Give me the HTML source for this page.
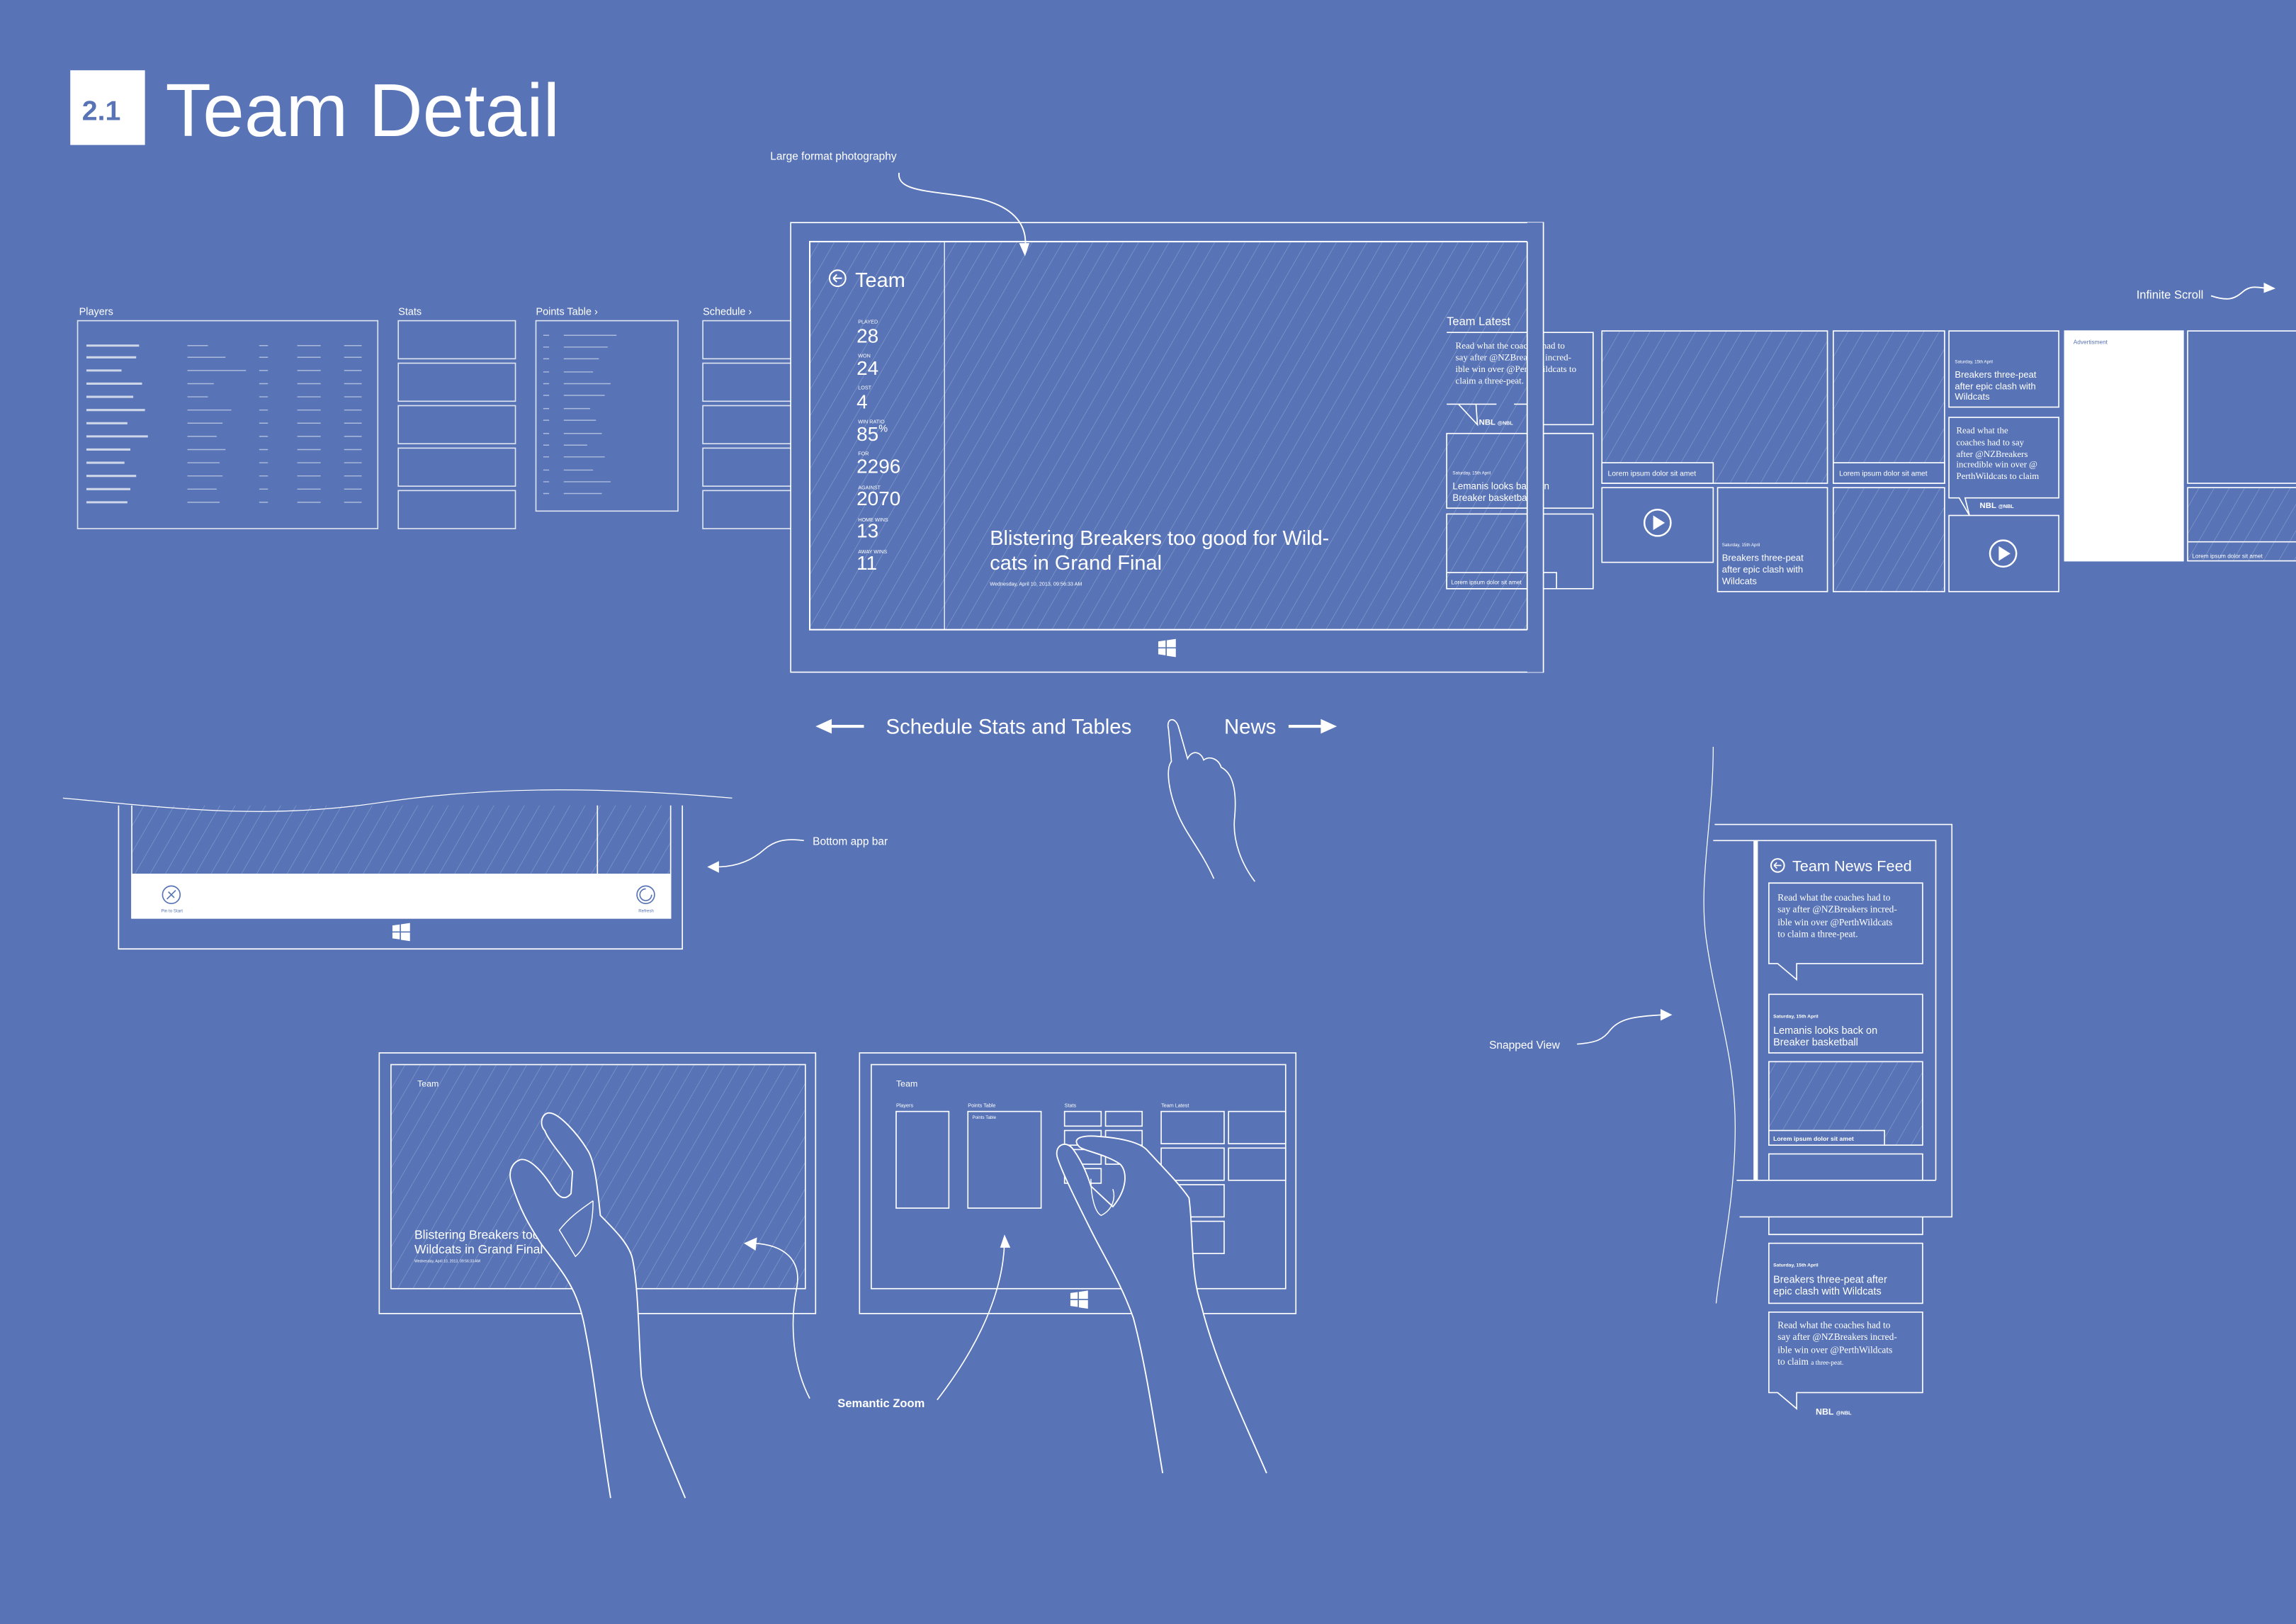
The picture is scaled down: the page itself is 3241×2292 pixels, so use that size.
<!DOCTYPE html>
<html><head><meta charset="utf-8"><style>
html,body{margin:0;padding:0;background:#5874b6;}
svg{display:block}
</style></head><body>
<svg width="3241" height="2292" viewBox="0 0 1568 1109" preserveAspectRatio="none" xmlns="http://www.w3.org/2000/svg" font-family="Liberation Sans, sans-serif" fill="#fff">
<defs>
<pattern id="h" width="9" height="9" patternUnits="userSpaceOnUse" patternTransform="rotate(30)">
<line x1="0" y1="0" x2="0" y2="9" stroke="#fff" stroke-opacity="0.32" stroke-width="0.55"/>
</pattern>
<g id="win"><path d="M0,1 L5,0.3 L5,5 L0,5Z M5.8,0.2 L12,-0.7 L12,5 L5.8,5Z M0,5.8 L5,5.8 L5,10.5 L0,9.8Z M5.8,5.8 L12,5.8 L12,11.7 L5.8,10.8Z" fill="#fff"/></g>
<g id="play"><circle cx="0" cy="0" r="9" fill="none" stroke="#fff" stroke-width="1.2"/><path d="M-3,-5 L5,0 L-3,5Z" fill="#fff"/></g>
</defs>
<rect width="1568" height="1109" fill="#5874b6"/>
<g fill="none" stroke="#fff" stroke-width="0.8">
<rect x="48" y="48" width="51" height="51" fill="#fff" stroke="none"/>
<rect x="53" y="219" width="205" height="142" stroke-opacity="0.8"/>
<rect x="272" y="219" width="80" height="26" stroke-opacity="0.8"/>
<rect x="272" y="248" width="80" height="26" stroke-opacity="0.8"/>
<rect x="272" y="277" width="80" height="26" stroke-opacity="0.8"/>
<rect x="272" y="306" width="80" height="26" stroke-opacity="0.8"/>
<rect x="272" y="335" width="80" height="26" stroke-opacity="0.8"/>
<rect x="366" y="219" width="97" height="130" stroke-opacity="0.8"/>
<rect x="480" y="219" width="80" height="26" stroke-opacity="0.8"/>
<rect x="480" y="248" width="80" height="26" stroke-opacity="0.8"/>
<rect x="480" y="277" width="80" height="26" stroke-opacity="0.8"/>
<rect x="480" y="306" width="80" height="26" stroke-opacity="0.8"/>
<rect x="480" y="335" width="80" height="26" stroke-opacity="0.8"/>
</g>
<g stroke="#fff" stroke-opacity="0.7" stroke-width="1.5">
<path d="M59,236h36M59,244h34M59,253h24M59,262h38M59,271h32M59,280h40M59,289h28M59,298h42M59,307h30M59,316h26M59,325h34M59,334h30M59,343h28"/>
</g>
<g stroke="#fff" stroke-opacity="0.5" stroke-width="0.7">
<path d="M128,236h14M128,244h26M128,253h40M128,262h18M128,271h14M128,280h30M128,289h24M128,298h20M128,307h26M128,316h22M128,325h24M128,334h20M128,343h22"/>
<path d="M177,236h6M177,244h6M177,253h6M177,262h6M177,271h6M177,280h6M177,289h6M177,298h6M177,307h6M177,316h6M177,325h6M177,334h6M177,343h6"/>
<path d="M203,236h16M203,244h16M203,253h16M203,262h16M203,271h16M203,280h16M203,289h16M203,298h16M203,307h16M203,316h16M203,325h16M203,334h16M203,343h16"/>
<path d="M235,236h12M235,244h12M235,253h12M235,262h12M235,271h12M235,280h12M235,289h12M235,298h12M235,307h12M235,316h12M235,325h12M235,334h12M235,343h12"/>
<path d="M371,229h4M385,229h36M371,237h4M385,237h30M371,245h4M385,245h24M371,254h4M385,254h20M371,262h4M385,262h32M371,270h4M385,270h28M371,279h4M385,279h18M371,287h4M385,287h22M371,296h4M385,296h26M371,304h4M385,304h16M371,312h4M385,312h28M371,321h4M385,321h20M371,329h4M385,329h32M371,337h4M385,337h26"/>
</g>
<g font-size="7" fill="#fff">
<text x="54" y="215">Players</text><text x="272" y="215">Stats</text><text x="366" y="215">Points Table ›</text><text x="480" y="215">Schedule ›</text>
</g>

<rect x="540" y="152" width="514" height="307" fill="#5874b6" stroke="#fff" stroke-width="0.8"/>
<rect x="553" y="165" width="490" height="265" fill="url(#h)" stroke="#fff" stroke-width="1"/>
<line x1="645" y1="165" x2="645" y2="430" stroke="#fff" stroke-width="0.6"/>
<use href="#win" x="791" y="437"/>
<g fill="none" stroke="#fff" stroke-width="0.8">
<path d="M1054,227 H1088 V290 H1054"/>
<path d="M1054,296 H1088 V347 H1054"/>
<path d="M1054,351 H1088 V402 H1054"/>
<path d="M988,227 H1043 V276 H1034 M1022,276 H1022 L1008,276 L1009,290 L996,276 H988 Z" />
<rect x="988" y="296" width="55" height="51"/>
<rect x="988" y="351" width="55" height="51"/>
<rect x="988" y="391" width="55" height="11"/>
<path d="M1043,391 H1063 V402"/>
</g>
<g fill="#fff">
<circle cx="572" cy="190" r="5.5" fill="none" stroke="#fff" stroke-width="1"/><path d="M569,190h6M569,190l2.5,-2.5M569,190l2.5,2.5" stroke="#fff" stroke-width="1"/>
<text x="584" y="196" font-size="14">Team</text>
<g font-size="3.5"><text x="586" y="221">PLAYED</text><text x="586" y="244">WON</text><text x="586" y="266">LOST</text><text x="586" y="289">WIN RATIO</text><text x="586" y="311">FOR</text><text x="586" y="334">AGAINST</text><text x="586" y="356">HOME WINS</text><text x="586" y="378">AWAY WINS</text></g>
<g font-size="13.5"><text x="585" y="234">28</text><text x="585" y="256">24</text><text x="585" y="279">4</text><text x="585" y="301">85<tspan font-size="7" dy="-6">%</tspan></text><text x="585" y="323">2296</text><text x="585" y="345">2070</text><text x="585" y="367">13</text><text x="585" y="389">11</text></g>
<text x="676" y="372" font-size="14">Blistering Breakers too good for Wild-</text>
<text x="676" y="389" font-size="14">cats in Grand Final</text>
<text x="676" y="400" font-size="3.5">Wednesday, April 10, 2013, 09:56:33 AM</text>
<text x="988" y="222" font-size="8">Team Latest</text>
<g font-family="Liberation Serif, serif" font-size="6.3"><text x="994" y="238">Read what the coaches had to</text><text x="994" y="246">say after @NZBreakers incred-</text><text x="994" y="254">ible win over @PerthWildcats to</text><text x="994" y="262">claim a three-peat.</text></g>
<text x="1010" y="290" font-size="5.5" font-weight="bold">NBL <tspan font-size="3.5">@NBL</tspan></text>
<text x="992" y="324" font-size="3">Saturday, 15th April</text>
<text x="992" y="334" font-size="6.5">Lemanis looks back on</text>
<text x="992" y="342" font-size="6.5">Breaker basketball</text>
<text x="991" y="399" font-size="4">Lorem ipsum dolor sit amet</text>
</g>
<rect x="1043" y="152" width="11" height="307" fill="#5874b6"/>
<path d="M1043,165 V430 M1054,152 V459" stroke="#fff" stroke-width="0.8" fill="none"/>

<g fill="none" stroke="#fff" stroke-width="0.8">
<rect x="1094" y="226" width="154" height="104" fill="url(#h)"/>
<rect x="1094" y="316" width="76" height="14" fill="#5874b6"/>
<rect x="1094" y="333" width="76" height="51"/>
<rect x="1173" y="333" width="75" height="71"/>
<rect x="1252" y="226" width="76" height="104" fill="url(#h)"/>
<rect x="1252" y="316" width="76" height="14" fill="#5874b6"/>
<rect x="1252" y="333" width="76" height="71" fill="url(#h)"/>
<rect x="1331" y="226" width="75" height="52"/>
<path d="M1331,285 H1406 V340 H1342 L1345,352 L1338,340 H1331Z"/>
<rect x="1331" y="352" width="75" height="52"/>
<rect x="1410" y="226" width="81" height="157" fill="#fff"/>
<path d="M1568,226 H1494 V330 H1568"/>
<path d="M1568,333 H1494 V383 H1568" fill="url(#h)"/>
<path d="M1568,370 H1494" />
</g>
<use href="#play" x="1132" y="357"/>
<use href="#play" x="1368" y="378"/>
<g fill="#fff">
<text x="1098" y="325" font-size="5">Lorem ipsum dolor sit amet</text>
<text x="1256" y="325" font-size="5">Lorem ipsum dolor sit amet</text>
<text x="1176" y="373" font-size="3">Saturday, 15th April</text>
<text x="1176" y="383" font-size="6.3">Breakers three-peat</text><text x="1176" y="391" font-size="6.3">after epic clash with</text><text x="1176" y="399" font-size="6.3">Wildcats</text>
<text x="1335" y="248" font-size="3">Saturday, 15th April</text>
<text x="1335" y="258" font-size="6.3">Breakers three-peat</text><text x="1335" y="266" font-size="6.3">after epic clash with</text><text x="1335" y="273" font-size="6.3">Wildcats</text>
<g font-family="Liberation Serif, serif" font-size="6.2"><text x="1336" y="296">Read what the</text><text x="1336" y="304">coaches had to say</text><text x="1336" y="312">after @NZBreakers</text><text x="1336" y="319">incredible win over @</text><text x="1336" y="327">PerthWildcats to claim</text></g>
<text x="1352" y="347" font-size="5.5" font-weight="bold">NBL <tspan font-size="3.5">@NBL</tspan></text>
<text x="1416" y="235" font-size="4" fill="#5874b6">Advertisment</text>
<text x="1497" y="381" font-size="4">Lorem ipsum dolor sit amet</text>
<text x="1459" y="204" font-size="8">Infinite Scroll</text>
<text x="526" y="109" font-size="7.5">Large format photography</text>
<text x="113" y="93" font-size="51">Team Detail</text>
<text x="56" y="82" font-size="19" font-weight="bold" fill="#5874b6">2.1</text>
</g>
<g fill="none" stroke="#fff" stroke-width="0.9">
<path d="M1510,202 C1522,206 1526,204 1532,199 C1538,194 1544,197 1550,197"/>
<path d="M614,118 C612,132 640,130 670,136 C694,142 702,155 700,170"/>
</g>
<path d="M1546,193 L1554,197 L1546,200Z M696,166 L700,175 L703,166Z" fill="#fff"/>

<path d="M557,496 L568,491 L568,501Z M913,496 L902,491 L902,501Z" fill="#fff"/>
<path d="M566,496 H590 M880,496 H904" stroke="#fff" stroke-width="2"/>
<g fill="#fff"><text x="605" y="501" font-size="14.2">Schedule Stats and Tables</text><text x="836" y="501" font-size="14.2">News</text></g>
<path d="M829,600 C820,580 810,570 804,555 C798,540 796,525 800,520 L798,498 C796,490 803,489 805,497 L811,518 C814,512 820,513 822,519 C826,516 832,518 834,524 C842,528 845,540 843,560 C842,575 848,590 857,602" fill="none" stroke="#fff" stroke-width="0.8"/>

<g fill="none" stroke="#fff" stroke-width="0.8">
<path d="M43,545 C120,552 180,560 260,548 C340,536 420,538 500,545" stroke-width="0.6"/>
<path d="M81,550 V648 H466 V550"/>
<rect x="90" y="550" width="368" height="47" fill="url(#h)" stroke="none"/>
<path d="M90,550 V627 M458,550 V627 M408,550 V597"/>
<rect x="90" y="597" width="368" height="30" fill="#fff"/>
<circle cx="117" cy="611" r="6" stroke="#5874b6"/>
<circle cx="441" cy="611" r="6" stroke="#5874b6"/>
<path d="M549,574 C535,572 528,575 522,580 C512,589 500,592 489,592"/>
</g>
<path d="M483,592 L491,588 L491,596Z" fill="#fff"/>
<use href="#win" x="268" y="631"/>
<g fill="#5874b6" font-size="3"><text x="110" y="623">Pin to Start</text><text x="436" y="623">Refresh</text></g>
<path d="M114,614 L120,608 M115,609 L119,613 M441,607 A4,4 0 1 0 445,611" stroke="#5874b6" stroke-width="0.8" fill="none"/>
<text x="555" y="577" font-size="7.5" fill="#fff">Bottom app bar</text>

<g fill="none" stroke="#fff" stroke-width="0.8">
<rect x="259" y="719" width="298" height="178"/>
<rect x="267" y="727" width="283" height="153" fill="url(#h)"/>
<rect x="587" y="719" width="298" height="178"/>
<rect x="595" y="727" width="283" height="153"/>
<rect x="612" y="759" width="36" height="66"/>
<rect x="661" y="759" width="50" height="66"/>
<rect x="727" y="759" width="25" height="10"/><rect x="755" y="759" width="25" height="10"/>
<rect x="727" y="772" width="25" height="10"/><rect x="755" y="772" width="25" height="10"/>
<rect x="727" y="785" width="25" height="10"/><rect x="755" y="785" width="25" height="10"/>
<rect x="727" y="798" width="25" height="10"/>
<rect x="793" y="759" width="43" height="22"/><rect x="839" y="759" width="39" height="22"/>
<rect x="793" y="784" width="43" height="22"/><rect x="839" y="784" width="39" height="22"/>
<rect x="793" y="809" width="43" height="22"/>
<rect x="793" y="834" width="43" height="22"/>
</g>
<use href="#win" x="731" y="882"/>
<g fill="#fff">
<text x="285" y="742" font-size="6">Team</text>
<text x="612" y="742" font-size="6">Team</text>
<g font-size="3.5"><text x="612" y="756">Players</text><text x="661" y="756">Points Table</text><text x="727" y="756">Stats</text><text x="793" y="756">Team Latest</text><text x="664" y="764" font-size="3">Points Table</text></g>
<text x="283" y="846" font-size="8.5">Blistering Breakers too good for</text>
<text x="283" y="856" font-size="8.5">Wildcats in Grand Final</text>
<text x="283" y="862" font-size="2.5">Wednesday, April 10, 2013, 09:56:33 AM</text>
<text x="572" y="961" font-size="8" font-weight="bold">Semantic Zoom</text>
</g>
<path d="M437,1023 C430,980 426,940 420,910 C415,880 405,870 390,850 C380,835 375,825 370,810 C366,800 370,794 375,792 C382,790 392,802 398,812 C402,818 406,820 410,815 L411,800 C405,790 395,780 392,772 C388,768 390,760 395,760 C402,760 415,775 421,785 C426,792 428,810 430,830 C440,840 450,850 452,860 C456,880 456,910 458,940 C461,960 470,980 488,1023" transform="translate(-20,0)" fill="#5874b6" stroke="#fff" stroke-width="0.9"/>
<path d="M395,820 C395,835 392,850 383,858 L372,840 C380,830 388,825 395,820" fill="none" stroke="#fff" stroke-width="0.7" transform="translate(10,0)"/>
<path d="M794,1006 C788,970 782,930 774,900 C765,875 755,860 745,840 C735,820 725,800 722,790 C720,782 728,778 733,785 C738,792 742,800 745,810 L760,824 C770,812 770,800 765,795 C755,788 740,786 737,783 C732,778 737,775 750,776 C765,777 778,780 783,785 C795,798 805,808 812,818 C815,840 813,870 820,890 C830,930 845,960 865,1006" fill="#5874b6" stroke="#fff" stroke-width="0.9"/>
<path d="M745,805 C745,818 748,828 752,830 C760,826 762,818 760,812" fill="none" stroke="#fff" stroke-width="0.7"/>
<g fill="none" stroke="#fff" stroke-width="0.8">
<path d="M553,955 C540,930 540,900 544,880 C548,860 535,850 515,849"/>
<path d="M640,956 C660,930 685,890 686,848"/>
</g>
<path d="M508,849 L517,845 L516,854Z M686,843 L683,852 L690,852Z" fill="#fff"/>

<path d="M1170,510 C1170,560 1160,600 1165,640 C1172,690 1185,720 1185,770 C1185,820 1175,860 1172,890" fill="none" stroke="#fff" stroke-width="0.6"/>
<g fill="none" stroke="#fff" stroke-width="0.8">
<path d="M1170,574 H1322 V806 M1188,831 H1333 V563 H1171"/>
<line x1="1199" y1="574" x2="1199" y2="806" stroke-width="3"/>
<line x1="1186" y1="806" x2="1322" y2="806"/>
<path d="M1208,603 H1313 V658 H1227 L1227,669 L1214,658 H1208Z"/>
<rect x="1208" y="679" width="105" height="40"/>
<rect x="1208" y="725" width="105" height="57" fill="url(#h)"/>
<rect x="1208" y="772" width="79" height="10" fill="#5874b6"/>
<path d="M1208,806 V788 H1313 V806"/>
<path d="M1208,831 V843 H1313 V831"/>
<rect x="1208" y="849" width="105" height="41"/>
<path d="M1208,896 H1313 V951 H1227 L1227,962 L1214,951 H1208Z"/>
<path d="M1077,713 C1090,712 1095,710 1100,703 C1106,696 1115,694 1136,693"/>
</g>
<path d="M1142,693 L1134,689 L1134,697Z" fill="#fff"/>
<g fill="#fff">
<circle cx="1214" cy="591" r="4.5" fill="none" stroke="#fff"/><path d="M1211.5,591h5M1211.5,591l2,-2M1211.5,591l2,2" stroke="#fff" stroke-width="0.8"/>
<text x="1224" y="595" font-size="10.5">Team News Feed</text>
<g font-family="Liberation Serif, serif" font-size="6.5"><text x="1214" y="615">Read what the coaches had to</text><text x="1214" y="623">say after @NZBreakers incred-</text><text x="1214" y="632">ible win over @PerthWildcats</text><text x="1214" y="640">to claim a three-peat.</text></g>
<text x="1211" y="695" font-size="3.3" font-weight="bold">Saturday, 15th April</text>
<text x="1211" y="706" font-size="7">Lemanis looks back on</text><text x="1211" y="714" font-size="7">Breaker basketball</text>
<text x="1211" y="779" font-size="4.2" font-weight="bold">Lorem ipsum dolor sit amet</text>
<text x="1211" y="865" font-size="3.3" font-weight="bold">Saturday, 15th April</text>
<text x="1211" y="876" font-size="7">Breakers three-peat after</text><text x="1211" y="884" font-size="7">epic clash with Wildcats</text>
<g font-family="Liberation Serif, serif" font-size="6.5"><text x="1214" y="907">Read what the coaches had to</text><text x="1214" y="915">say after @NZBreakers incred-</text><text x="1214" y="924">ible win over @PerthWildcats</text><text x="1214" y="932">to claim <tspan font-size="4.5">a three-peat.</tspan></text></g>
<text x="1240" y="966" font-size="6" font-weight="bold">NBL <tspan font-size="3.5">@NBL</tspan></text>
<text x="1017" y="716" font-size="7.5">Snapped View</text>
</g>
</svg>
</body></html>
